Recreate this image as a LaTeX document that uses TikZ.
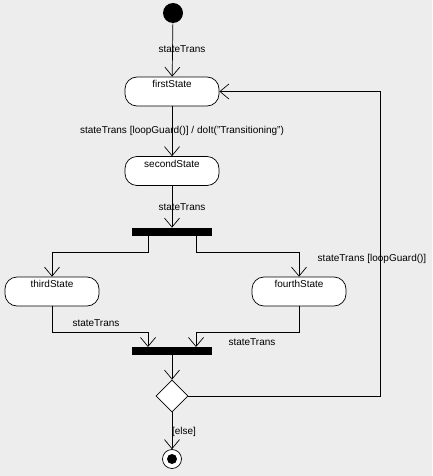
\documentclass[tikz,border=0pt]{standalone}
\usepackage{fontspec}
\setmainfont{Liberation Sans}
\usetikzlibrary{arrows.meta,shapes.geometric}
\begin{document}
\begin{tikzpicture}[x=1pt,y=-1pt,
  st/.style={draw,fill=white,rounded corners=12pt,minimum width=94pt,minimum height=29pt,inner sep=0pt},
  bar/.style={fill=black,minimum width=80pt,minimum height=8pt,inner sep=0pt},
  lbl/.style={font=\fontsize{10}{11}\selectfont,inner sep=1pt},
  ar/.style={-{Straight Barb[length=9pt,width=15pt]}},
  line width=0.7pt]
\fill[black!7] (0,0) rectangle (432,476);
\useasboundingbox (0,0) rectangle (432,476);
\node[circle,fill=black,minimum size=20pt,inner sep=0pt] (init) at (173,13) {};
\node[st] (first) at (172,91.5) {};
\node[lbl] at (172,84) {firstState};
\node[st] (second) at (172,171) {};
\node[lbl] at (172,163.5) {secondState};
\node[bar] (fork) at (172,232) {};
\node[st] (third) at (52,291.5) {};
\node[lbl] at (52,284) {thirdState};
\node[st] (fourth) at (299,291.5) {};
\node[lbl] at (299,284) {fourthState};
\node[bar] (join) at (172,351) {};
\node[diamond,draw,fill=white,minimum size=32pt,inner sep=0pt] (dec) at (172,396) {};
\node[circle,draw,fill=white,minimum size=19pt,inner sep=0pt] (final) at (172,459) {};
\node[circle,fill=black,minimum size=10pt,inner sep=0pt] at (final) {};

\draw[ar] (init) -- (first);
\node[lbl] at (182,49) {stateTrans};
\draw[ar] (first) -- (second);
\node[lbl] at (182,131) {stateTrans [loopGuard()] / doIt("Transitioning")};
\draw[ar] (second) -- (fork);
\node[lbl] at (182,207) {stateTrans};
\coordinate (f1) at (148,236);
\coordinate (f2) at (196,236);
\coordinate (j1) at (148,347);
\coordinate (j2) at (196,347);
\draw[ar] (f1) -- (148,252) -| (third.north);
\draw[ar] (f2) -- (196,252) -| (fourth.north);
\node[lbl] at (372,259) {stateTrans [loopGuard()]};
\draw[ar] (third.south) |- (148,332) -- (j1);
\node[lbl] at (96,323) {stateTrans};
\draw[ar] (fourth.south) |- (196,332) -- (j2);
\node[lbl] at (252,342) {stateTrans};
\draw[ar] (join) -- (dec);
\draw[ar] (dec.east) -- (380,396) |- (first.east);
\draw[ar] (dec) -- (final);
\node[lbl] at (184,432) {[else]};
\end{tikzpicture}
\end{document}
